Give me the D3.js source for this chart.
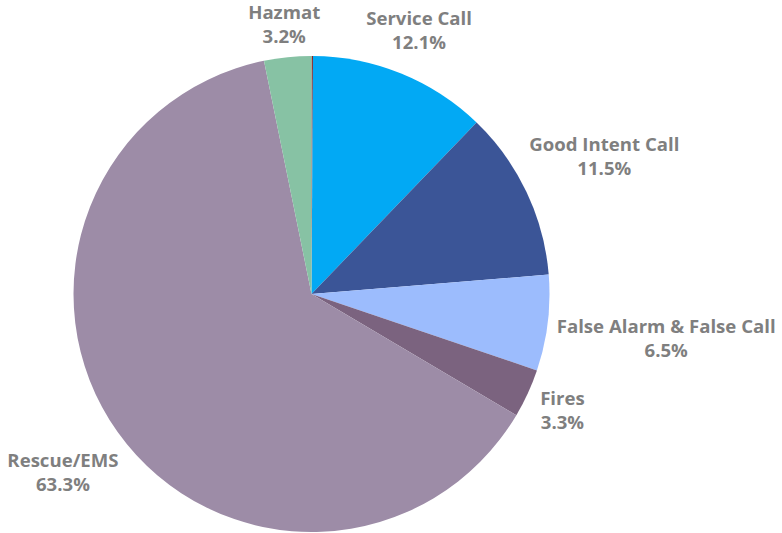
<!DOCTYPE html>
<html><head><meta charset="utf-8">
<script src="https://cdn.jsdelivr.net/npm/d3@7/dist/d3.min.js"></script>
<style>body{margin:0;background:#fff}</style>
</head><body><svg id="c" width="782" height="533"></svg>
<script>
const categories = ["Other", "Service Call", "Good Intent Call", "False Alarm & False Call", "Fires", "Rescue/EMS", "Hazmat"];
const values = [0.1, 12.1, 11.5, 6.5, 3.3, 63.3, 3.2];
const showLabel = [false, true, true, true, true, true, true];
const colors = ["#8b2424", "#02a9f4", "#3b5597", "#9cbcfd", "#7b637f", "#9d8ca7", "#87c2a4"];

const svg = d3.select("#c");
const cx = 311.5, cy = 294, r = 238;
const g = svg.append("g").attr("transform", `translate(${cx},${cy})`);
const data = categories.map((c, i) => ({c, v: values[i], col: colors[i], show: showLabel[i]}));
const pie = d3.pie().value(d => d.v).sort(null);
const arcs = pie(data);
const arc = d3.arc().innerRadius(0).outerRadius(r);
g.selectAll("path").data(arcs).join("path").attr("d", arc).attr("fill", d => d.data.col);

const lh = 24, gap = 8;
const lab = g.append("g").attr("font-family", "'Open Sans', sans-serif").attr("font-weight", 700)
  .attr("font-size", 18.6).attr("fill", "#7f7f7f").attr("text-anchor", "middle");
function boxDist(x, y, w, h) {
  const dx = Math.max(Math.abs(x) - w / 2, 0), dy = Math.max(Math.abs(y) - h / 2, 0);
  return Math.hypot(dx, dy);
}
arcs.filter(a => a.data.show).forEach(a => {
  const t = lab.append("text");
  t.append("tspan").attr("x", 0).attr("dy", 0).text(a.data.c);
  t.append("tspan").attr("x", 0).attr("dy", lh).text(a.data.v.toFixed(1) + "%");
  const bb = t.node().getBBox();
  const th = (a.startAngle + a.endAngle) / 2;
  const ux = Math.sin(th), uy = -Math.cos(th);
  let lo = 0, hi = 1000;
  for (let k = 0; k < 60; k++) {
    const m = (lo + hi) / 2;
    if (boxDist(ux * m, uy * m, bb.width, bb.height) < r + gap) lo = m; else hi = m;
  }
  const ccx = ux * lo, ccy = uy * lo;
  t.attr("transform", `translate(${ccx - (bb.x + bb.width / 2)},${ccy - (bb.y + bb.height / 2)})`);
});
</script></body></html>
